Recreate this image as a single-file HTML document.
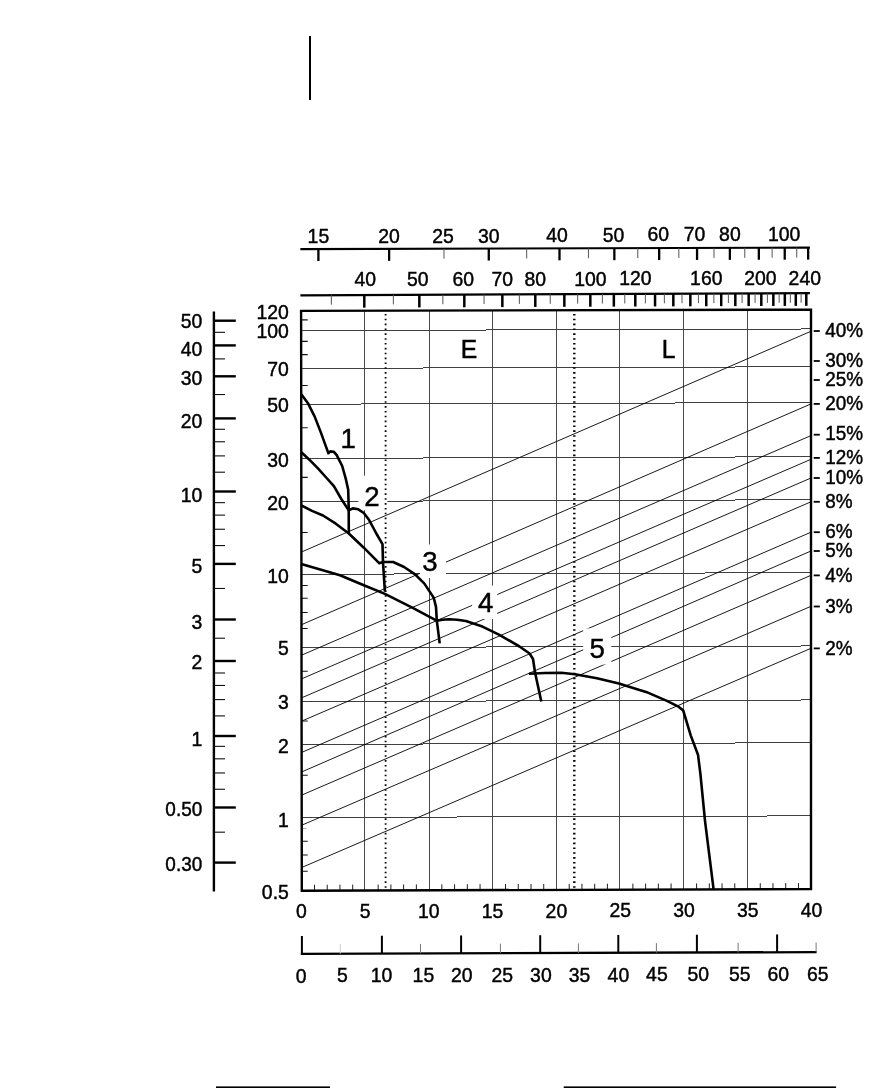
<!DOCTYPE html>
<html><head><meta charset="utf-8"><title>Chart</title>
<style>
html,body{margin:0;padding:0;background:#fff;}
body{width:874px;height:1088px;overflow:hidden;}
svg{display:block;font-family:"Liberation Sans",Arial,sans-serif;fill:#000;filter:grayscale(1);}
</style></head><body>
<svg width="874" height="1088" viewBox="0 0 874 1088">
<rect width="874" height="1088" fill="#fff"/>
<line x1="364.50" y1="310.71" x2="364.50" y2="890.58" stroke="#4a4a4a" stroke-width="1" shape-rendering="crispEdges"/>
<line x1="429.50" y1="310.52" x2="429.50" y2="890.35" stroke="#4a4a4a" stroke-width="1" shape-rendering="crispEdges"/>
<line x1="492.50" y1="310.33" x2="492.50" y2="890.13" stroke="#4a4a4a" stroke-width="1" shape-rendering="crispEdges"/>
<line x1="556.50" y1="310.13" x2="556.50" y2="889.91" stroke="#4a4a4a" stroke-width="1" shape-rendering="crispEdges"/>
<line x1="619.50" y1="309.95" x2="619.50" y2="889.69" stroke="#4a4a4a" stroke-width="1" shape-rendering="crispEdges"/>
<line x1="683.50" y1="309.75" x2="683.50" y2="889.46" stroke="#4a4a4a" stroke-width="1" shape-rendering="crispEdges"/>
<line x1="747.50" y1="309.56" x2="747.50" y2="889.24" stroke="#4a4a4a" stroke-width="1" shape-rendering="crispEdges"/>
<line x1="301.50" y1="330.60" x2="811.00" y2="328.97" stroke="#404040" stroke-width="1" shape-rendering="crispEdges"/>
<line x1="301.50" y1="368.40" x2="811.00" y2="366.77" stroke="#404040" stroke-width="1" shape-rendering="crispEdges"/>
<line x1="301.50" y1="404.20" x2="811.00" y2="402.57" stroke="#404040" stroke-width="1" shape-rendering="crispEdges"/>
<line x1="301.50" y1="458.40" x2="811.00" y2="456.77" stroke="#404040" stroke-width="1" shape-rendering="crispEdges"/>
<line x1="301.50" y1="501.40" x2="811.00" y2="499.77" stroke="#404040" stroke-width="1" shape-rendering="crispEdges"/>
<line x1="301.50" y1="574.30" x2="811.00" y2="572.67" stroke="#404040" stroke-width="1" shape-rendering="crispEdges"/>
<line x1="301.50" y1="647.60" x2="811.00" y2="645.97" stroke="#404040" stroke-width="1" shape-rendering="crispEdges"/>
<line x1="301.50" y1="701.60" x2="811.00" y2="699.97" stroke="#404040" stroke-width="1" shape-rendering="crispEdges"/>
<line x1="301.50" y1="744.40" x2="811.00" y2="742.77" stroke="#404040" stroke-width="1" shape-rendering="crispEdges"/>
<line x1="301.50" y1="817.50" x2="811.00" y2="815.87" stroke="#404040" stroke-width="1" shape-rendering="crispEdges"/>
<line x1="301.50" y1="552.00" x2="811.00" y2="331.25" stroke="#000" stroke-width="0.9" />
<line x1="301.50" y1="624.70" x2="811.00" y2="403.90" stroke="#000" stroke-width="0.9" />
<line x1="301.50" y1="655.20" x2="811.00" y2="435.60" stroke="#000" stroke-width="0.9" />
<line x1="301.50" y1="678.90" x2="811.00" y2="459.30" stroke="#000" stroke-width="0.9" />
<line x1="301.50" y1="697.90" x2="811.00" y2="478.00" stroke="#000" stroke-width="0.9" />
<line x1="301.50" y1="721.20" x2="811.00" y2="501.80" stroke="#000" stroke-width="0.9" />
<line x1="301.50" y1="752.50" x2="811.00" y2="532.20" stroke="#000" stroke-width="0.9" />
<line x1="301.50" y1="772.00" x2="811.00" y2="551.00" stroke="#000" stroke-width="0.9" />
<line x1="301.50" y1="795.20" x2="811.00" y2="575.30" stroke="#000" stroke-width="0.9" />
<line x1="301.50" y1="825.30" x2="811.00" y2="606.30" stroke="#000" stroke-width="0.9" />
<line x1="301.50" y1="867.60" x2="811.00" y2="648.30" stroke="#000" stroke-width="0.9" />
<line x1="301.50" y1="319.90" x2="307.70" y2="319.88" stroke="#111" stroke-width="1.1" />
<line x1="301.50" y1="341.40" x2="307.70" y2="341.38" stroke="#111" stroke-width="1.1" />
<line x1="301.50" y1="354.60" x2="307.70" y2="354.58" stroke="#111" stroke-width="1.1" />
<line x1="301.50" y1="385.50" x2="307.70" y2="385.48" stroke="#111" stroke-width="1.1" />
<line x1="301.50" y1="427.80" x2="307.70" y2="427.78" stroke="#111" stroke-width="1.1" />
<line x1="301.50" y1="477.40" x2="307.70" y2="477.38" stroke="#111" stroke-width="1.1" />
<line x1="301.50" y1="532.50" x2="307.70" y2="532.48" stroke="#111" stroke-width="1.1" />
<line x1="301.50" y1="585.50" x2="307.70" y2="585.48" stroke="#111" stroke-width="1.1" />
<line x1="301.50" y1="598.30" x2="307.70" y2="598.28" stroke="#111" stroke-width="1.1" />
<line x1="301.50" y1="612.50" x2="307.70" y2="612.48" stroke="#111" stroke-width="1.1" />
<line x1="301.50" y1="628.50" x2="307.70" y2="628.48" stroke="#111" stroke-width="1.1" />
<line x1="301.50" y1="671.30" x2="307.70" y2="671.28" stroke="#111" stroke-width="1.1" />
<line x1="301.50" y1="721.00" x2="307.70" y2="720.98" stroke="#111" stroke-width="1.1" />
<line x1="301.50" y1="775.30" x2="307.70" y2="775.28" stroke="#111" stroke-width="1.1" />
<line x1="301.50" y1="841.20" x2="307.70" y2="841.18" stroke="#111" stroke-width="1.1" />
<line x1="301.50" y1="855.00" x2="307.70" y2="854.98" stroke="#111" stroke-width="1.1" />
<line x1="301.50" y1="871.30" x2="307.70" y2="871.28" stroke="#111" stroke-width="1.1" />
<line x1="301.50" y1="828.50" x2="306.50" y2="828.48" stroke="#aaa" stroke-width="1" />
<line x1="314.49" y1="884.75" x2="314.49" y2="890.75" stroke="#222" stroke-width="1" />
<line x1="327.22" y1="884.71" x2="327.22" y2="890.71" stroke="#222" stroke-width="1" />
<line x1="339.96" y1="884.66" x2="339.96" y2="890.66" stroke="#222" stroke-width="1" />
<line x1="352.69" y1="884.62" x2="352.69" y2="890.62" stroke="#222" stroke-width="1" />
<line x1="378.17" y1="884.53" x2="378.17" y2="890.53" stroke="#222" stroke-width="1" />
<line x1="390.90" y1="884.49" x2="390.90" y2="890.49" stroke="#222" stroke-width="1" />
<line x1="403.64" y1="884.44" x2="403.64" y2="890.44" stroke="#222" stroke-width="1" />
<line x1="416.37" y1="884.40" x2="416.37" y2="890.40" stroke="#222" stroke-width="1" />
<line x1="441.85" y1="884.31" x2="441.85" y2="890.31" stroke="#222" stroke-width="1" />
<line x1="454.58" y1="884.26" x2="454.58" y2="890.26" stroke="#222" stroke-width="1" />
<line x1="467.32" y1="884.22" x2="467.32" y2="890.22" stroke="#222" stroke-width="1" />
<line x1="480.05" y1="884.17" x2="480.05" y2="890.17" stroke="#222" stroke-width="1" />
<line x1="505.53" y1="884.09" x2="505.53" y2="890.09" stroke="#222" stroke-width="1" />
<line x1="518.26" y1="884.04" x2="518.26" y2="890.04" stroke="#222" stroke-width="1" />
<line x1="531.00" y1="884.00" x2="531.00" y2="890.00" stroke="#222" stroke-width="1" />
<line x1="543.73" y1="883.95" x2="543.73" y2="889.95" stroke="#222" stroke-width="1" />
<line x1="569.21" y1="883.86" x2="569.21" y2="889.86" stroke="#222" stroke-width="1" />
<line x1="581.94" y1="883.82" x2="581.94" y2="889.82" stroke="#222" stroke-width="1" />
<line x1="594.68" y1="883.77" x2="594.68" y2="889.77" stroke="#222" stroke-width="1" />
<line x1="607.41" y1="883.73" x2="607.41" y2="889.73" stroke="#222" stroke-width="1" />
<line x1="632.89" y1="883.64" x2="632.89" y2="889.64" stroke="#222" stroke-width="1" />
<line x1="645.62" y1="883.59" x2="645.62" y2="889.59" stroke="#222" stroke-width="1" />
<line x1="658.36" y1="883.55" x2="658.36" y2="889.55" stroke="#222" stroke-width="1" />
<line x1="671.09" y1="883.51" x2="671.09" y2="889.51" stroke="#222" stroke-width="1" />
<line x1="696.57" y1="883.42" x2="696.57" y2="889.42" stroke="#222" stroke-width="1" />
<line x1="709.30" y1="883.37" x2="709.30" y2="889.37" stroke="#222" stroke-width="1" />
<line x1="722.04" y1="883.33" x2="722.04" y2="889.33" stroke="#222" stroke-width="1" />
<line x1="734.77" y1="883.28" x2="734.77" y2="889.28" stroke="#222" stroke-width="1" />
<line x1="760.25" y1="883.19" x2="760.25" y2="889.19" stroke="#222" stroke-width="1" />
<line x1="772.98" y1="883.15" x2="772.98" y2="889.15" stroke="#222" stroke-width="1" />
<line x1="785.72" y1="883.10" x2="785.72" y2="889.10" stroke="#222" stroke-width="1" />
<line x1="798.45" y1="883.06" x2="798.45" y2="889.06" stroke="#222" stroke-width="1" />
<rect x="335.6" y="421.6" width="26.0" height="34.0" fill="#fff"/>
<rect x="358.4" y="475.7" width="28.9" height="34.4" fill="#fff"/>
<rect x="419.9" y="544.4" width="26.1" height="33.6" fill="#fff"/>
<rect x="472.1" y="585.6" width="25.1" height="33.4" fill="#fff"/>
<rect x="583.2" y="628.4" width="28.1" height="36.1" fill="#fff"/>
<line x1="385.60" y1="313.90" x2="385.60" y2="890.80" stroke="#000" stroke-width="1.8" stroke-dasharray="1.6 3.25"/>
<line x1="574.30" y1="313.90" x2="574.30" y2="890.80" stroke="#000" stroke-width="2.4" stroke-dasharray="1.6 3.25"/>
<path d="M301.3,394.3 L308.3,403.8 L314.7,416.6 L321.1,433.1 L325.7,445.9 L328.4,453.2 L330.3,451.4 L333.9,451.8 L336.7,455.1 L342.2,466.0 L345.8,478.9 L348.2,489.8 L348.7,508.1 L348.8,533.1" fill="none" stroke="#000" stroke-width="2.6" stroke-linejoin="round"/>
<path d="M301.3,452.3 L308.3,458.7 L317.5,467.9 L326.6,478.0 L333.9,486.2 L341.3,499.0 L348.8,510.4 L352.8,508.4 L358.3,509.3 L363.8,513.0 L369.3,520.3 L376.6,534.0 L382.5,544.1 L383.0,562.4 L384.9,591.7" fill="none" stroke="#000" stroke-width="2.6" stroke-linejoin="round"/>
<path d="M301.3,505.4 L312.0,510.9 L323.0,515.5 L335.8,523.7 L348.8,533.5 L363.8,547.7 L379.4,563.3 L383.0,562.0 L393.1,562.0 L404.1,567.0 L415.1,574.3 L424.2,583.4 L431.5,594.4 L433.8,598.0 L436.0,606.9 L436.8,620.6 L439.7,643.3" fill="none" stroke="#000" stroke-width="2.6" stroke-linejoin="round"/>
<path d="M301.3,564.0 L340.0,575.2 L363.8,585.3 L384.9,593.9 L413.2,608.1 L436.6,620.7 L442.5,619.8 L449.0,619.2 L457.2,619.8 L465.9,621.0 L482.4,626.6 L498.9,634.6 L519.5,646.5 L529.6,653.5 L533.0,659.0 L535.1,672.8 L541.3,701.6" fill="none" stroke="#000" stroke-width="2.6" stroke-linejoin="round"/>
<path d="M528.9,673.7 L545.0,673.0 L561.2,672.7 L574.9,674.3 L596.9,678.2 L618.9,683.6 L639.5,689.9 L647.8,692.6 L666.9,700.9 L678.9,706.9 L683.2,710.5 L690.8,735.6 L698.0,754.7 L700.4,773.8 L705.1,821.6 L709.9,859.8 L713.6,889.3" fill="none" stroke="#000" stroke-width="2.6" stroke-linejoin="round"/>
<text transform="translate(348.30 448.20) scale(0.97 1)" font-size="28.5" text-anchor="middle" stroke="#000" stroke-width="0.45">1</text>
<text transform="translate(372.00 506.40) scale(0.97 1)" font-size="28.5" text-anchor="middle" stroke="#000" stroke-width="0.45">2</text>
<text transform="translate(430.00 571.20) scale(0.97 1)" font-size="28.5" text-anchor="middle" stroke="#000" stroke-width="0.45">3</text>
<text transform="translate(485.80 612.00) scale(0.97 1)" font-size="28.5" text-anchor="middle" stroke="#000" stroke-width="0.45">4</text>
<text transform="translate(597.20 658.30) scale(0.97 1)" font-size="28.5" text-anchor="middle" stroke="#000" stroke-width="0.45">5</text>
<text transform="translate(468.90 358.00) scale(0.97 1)" font-size="25.5" text-anchor="middle" stroke="#000" stroke-width="0.45">E</text>
<text transform="translate(668.60 357.60) scale(0.97 1)" font-size="25.5" text-anchor="middle" stroke="#000" stroke-width="0.45">L</text>
<polygon points="301.10,310.90 811.00,309.58 811.00,889.02 301.80,890.80" fill="none" stroke="#000" stroke-width="2.4"/>
<line x1="300.40" y1="249.10" x2="809.90" y2="247.63" stroke="#000" stroke-width="2.2" />
<line x1="318.40" y1="249.05" x2="318.40" y2="261.05" stroke="#000" stroke-width="2.3" />
<line x1="389.12" y1="248.85" x2="389.12" y2="260.85" stroke="#000" stroke-width="2.3" />
<line x1="488.78" y1="248.56" x2="488.78" y2="260.56" stroke="#000" stroke-width="2.3" />
<line x1="559.50" y1="248.35" x2="559.50" y2="260.35" stroke="#000" stroke-width="2.3" />
<line x1="614.35" y1="248.19" x2="614.35" y2="260.19" stroke="#000" stroke-width="2.3" />
<line x1="659.17" y1="248.06" x2="659.17" y2="260.06" stroke="#000" stroke-width="2.3" />
<line x1="697.06" y1="247.95" x2="697.06" y2="259.95" stroke="#000" stroke-width="2.3" />
<line x1="729.88" y1="247.86" x2="729.88" y2="259.86" stroke="#000" stroke-width="2.3" />
<line x1="758.83" y1="247.77" x2="758.83" y2="259.77" stroke="#000" stroke-width="2.3" />
<line x1="784.73" y1="247.70" x2="784.73" y2="259.70" stroke="#000" stroke-width="2.3" />
<line x1="808.16" y1="247.63" x2="808.16" y2="259.63" stroke="#000" stroke-width="2.3" />
<line x1="443.97" y1="248.69" x2="443.97" y2="258.69" stroke="#555" stroke-width="1" />
<line x1="526.67" y1="248.45" x2="526.67" y2="258.45" stroke="#555" stroke-width="1" />
<line x1="588.45" y1="248.27" x2="588.45" y2="258.27" stroke="#555" stroke-width="1" />
<line x1="637.78" y1="248.12" x2="637.78" y2="258.12" stroke="#555" stroke-width="1" />
<line x1="678.84" y1="248.01" x2="678.84" y2="258.01" stroke="#555" stroke-width="1" />
<line x1="714.02" y1="247.90" x2="714.02" y2="257.90" stroke="#555" stroke-width="1" />
<line x1="744.78" y1="247.81" x2="744.78" y2="257.81" stroke="#555" stroke-width="1" />
<line x1="772.12" y1="247.73" x2="772.12" y2="257.73" stroke="#555" stroke-width="1" />
<line x1="796.73" y1="247.66" x2="796.73" y2="257.66" stroke="#555" stroke-width="1" />
<text transform="translate(318.40 243.00) scale(0.97 1)" font-size="20" text-anchor="middle" stroke="#000" stroke-width="0.45">15</text>
<text transform="translate(389.12 243.00) scale(0.97 1)" font-size="20" text-anchor="middle" stroke="#000" stroke-width="0.45">20</text>
<text transform="translate(442.97 243.00) scale(0.97 1)" font-size="20" text-anchor="middle" stroke="#000" stroke-width="0.45">25</text>
<text transform="translate(488.78 243.00) scale(0.97 1)" font-size="20" text-anchor="middle" stroke="#000" stroke-width="0.45">30</text>
<text transform="translate(557.00 242.00) scale(0.97 1)" font-size="20" text-anchor="middle" stroke="#000" stroke-width="0.45">40</text>
<text transform="translate(613.60 242.00) scale(0.97 1)" font-size="20" text-anchor="middle" stroke="#000" stroke-width="0.45">50</text>
<text transform="translate(658.17 241.00) scale(0.97 1)" font-size="20" text-anchor="middle" stroke="#000" stroke-width="0.45">60</text>
<text transform="translate(694.56 241.00) scale(0.97 1)" font-size="20" text-anchor="middle" stroke="#000" stroke-width="0.45">70</text>
<text transform="translate(729.88 241.00) scale(0.97 1)" font-size="20" text-anchor="middle" stroke="#000" stroke-width="0.45">80</text>
<text transform="translate(784.23 241.00) scale(0.97 1)" font-size="20" text-anchor="middle" stroke="#000" stroke-width="0.45">100</text>
<line x1="300.40" y1="295.30" x2="809.90" y2="293.21" stroke="#000" stroke-width="2.3" />
<line x1="364.30" y1="295.04" x2="364.30" y2="307.64" stroke="#000" stroke-width="2.5" />
<line x1="419.34" y1="294.82" x2="419.34" y2="307.42" stroke="#000" stroke-width="2.5" />
<line x1="464.32" y1="294.63" x2="464.32" y2="307.23" stroke="#000" stroke-width="2.5" />
<line x1="502.35" y1="294.48" x2="502.35" y2="307.08" stroke="#000" stroke-width="2.5" />
<line x1="535.29" y1="294.34" x2="535.29" y2="306.94" stroke="#000" stroke-width="2.5" />
<line x1="564.34" y1="294.22" x2="564.34" y2="306.82" stroke="#000" stroke-width="2.5" />
<line x1="590.33" y1="294.11" x2="590.33" y2="306.71" stroke="#000" stroke-width="2.5" />
<line x1="613.84" y1="294.02" x2="613.84" y2="306.62" stroke="#000" stroke-width="2.5" />
<line x1="635.30" y1="293.93" x2="635.30" y2="306.53" stroke="#000" stroke-width="2.5" />
<line x1="655.05" y1="293.85" x2="655.05" y2="306.45" stroke="#000" stroke-width="2.5" />
<line x1="673.33" y1="293.77" x2="673.33" y2="306.37" stroke="#000" stroke-width="2.5" />
<line x1="690.35" y1="293.70" x2="690.35" y2="306.30" stroke="#000" stroke-width="2.5" />
<line x1="706.27" y1="293.64" x2="706.27" y2="306.24" stroke="#000" stroke-width="2.5" />
<line x1="721.22" y1="293.58" x2="721.22" y2="306.18" stroke="#000" stroke-width="2.5" />
<line x1="735.32" y1="293.52" x2="735.32" y2="306.12" stroke="#000" stroke-width="2.5" />
<line x1="748.66" y1="293.47" x2="748.66" y2="306.07" stroke="#000" stroke-width="2.5" />
<line x1="761.31" y1="293.41" x2="761.31" y2="306.01" stroke="#000" stroke-width="2.5" />
<line x1="773.35" y1="293.36" x2="773.35" y2="305.96" stroke="#000" stroke-width="2.5" />
<line x1="784.83" y1="293.32" x2="784.83" y2="305.92" stroke="#000" stroke-width="2.5" />
<line x1="795.79" y1="293.27" x2="795.79" y2="305.87" stroke="#000" stroke-width="2.5" />
<line x1="806.29" y1="293.23" x2="806.29" y2="305.83" stroke="#000" stroke-width="2.5" />
<line x1="331.36" y1="295.18" x2="331.36" y2="304.68" stroke="#555" stroke-width="1" />
<line x1="393.35" y1="294.92" x2="393.35" y2="304.42" stroke="#555" stroke-width="1" />
<line x1="442.86" y1="294.72" x2="442.86" y2="304.22" stroke="#555" stroke-width="1" />
<line x1="484.06" y1="294.55" x2="484.06" y2="304.05" stroke="#555" stroke-width="1" />
<line x1="519.36" y1="294.41" x2="519.36" y2="303.91" stroke="#555" stroke-width="1" />
<line x1="550.24" y1="294.28" x2="550.24" y2="303.78" stroke="#555" stroke-width="1" />
<line x1="577.68" y1="294.17" x2="577.68" y2="303.67" stroke="#555" stroke-width="1" />
<line x1="602.37" y1="294.07" x2="602.37" y2="303.57" stroke="#555" stroke-width="1" />
<line x1="624.81" y1="293.97" x2="624.81" y2="303.47" stroke="#555" stroke-width="1" />
<line x1="645.37" y1="293.89" x2="645.37" y2="303.39" stroke="#555" stroke-width="1" />
<line x1="664.36" y1="293.81" x2="664.36" y2="303.31" stroke="#555" stroke-width="1" />
<line x1="681.99" y1="293.74" x2="681.99" y2="303.24" stroke="#555" stroke-width="1" />
<line x1="698.44" y1="293.67" x2="698.44" y2="303.17" stroke="#555" stroke-width="1" />
<line x1="713.86" y1="293.61" x2="713.86" y2="303.11" stroke="#555" stroke-width="1" />
<line x1="728.38" y1="293.55" x2="728.38" y2="303.05" stroke="#555" stroke-width="1" />
<line x1="742.08" y1="293.49" x2="742.08" y2="302.99" stroke="#555" stroke-width="1" />
<line x1="755.07" y1="293.44" x2="755.07" y2="302.94" stroke="#555" stroke-width="1" />
<line x1="767.41" y1="293.39" x2="767.41" y2="302.89" stroke="#555" stroke-width="1" />
<line x1="779.15" y1="293.34" x2="779.15" y2="302.84" stroke="#555" stroke-width="1" />
<line x1="790.37" y1="293.29" x2="790.37" y2="302.79" stroke="#555" stroke-width="1" />
<line x1="801.10" y1="293.25" x2="801.10" y2="302.75" stroke="#555" stroke-width="1" />
<text transform="translate(365.30 286.00) scale(0.97 1)" font-size="20" text-anchor="middle" stroke="#000" stroke-width="0.45">40</text>
<text transform="translate(417.84 286.00) scale(0.97 1)" font-size="20" text-anchor="middle" stroke="#000" stroke-width="0.45">50</text>
<text transform="translate(463.32 286.00) scale(0.97 1)" font-size="20" text-anchor="middle" stroke="#000" stroke-width="0.45">60</text>
<text transform="translate(502.35 286.00) scale(0.97 1)" font-size="20" text-anchor="middle" stroke="#000" stroke-width="0.45">70</text>
<text transform="translate(535.29 286.00) scale(0.97 1)" font-size="20" text-anchor="middle" stroke="#000" stroke-width="0.45">80</text>
<text transform="translate(590.33 286.00) scale(0.97 1)" font-size="20" text-anchor="middle" stroke="#000" stroke-width="0.45">100</text>
<text transform="translate(635.30 285.00) scale(0.97 1)" font-size="20" text-anchor="middle" stroke="#000" stroke-width="0.45">120</text>
<text transform="translate(706.27 285.00) scale(0.97 1)" font-size="20" text-anchor="middle" stroke="#000" stroke-width="0.45">160</text>
<text transform="translate(760.31 285.00) scale(0.97 1)" font-size="20" text-anchor="middle" stroke="#000" stroke-width="0.45">200</text>
<text transform="translate(804.79 285.00) scale(0.97 1)" font-size="20" text-anchor="middle" stroke="#000" stroke-width="0.45">240</text>
<line x1="213.90" y1="311.50" x2="213.90" y2="891.50" stroke="#000" stroke-width="2.4" />
<line x1="213.90" y1="320.70" x2="235.80" y2="320.70" stroke="#000" stroke-width="2.4" />
<line x1="213.90" y1="345.40" x2="235.80" y2="345.40" stroke="#000" stroke-width="2.4" />
<line x1="213.90" y1="376.30" x2="235.80" y2="376.30" stroke="#000" stroke-width="2.4" />
<line x1="213.90" y1="418.40" x2="235.80" y2="418.40" stroke="#000" stroke-width="2.4" />
<line x1="213.90" y1="491.50" x2="235.80" y2="491.50" stroke="#000" stroke-width="2.4" />
<line x1="213.90" y1="563.90" x2="235.80" y2="563.90" stroke="#000" stroke-width="2.4" />
<line x1="213.90" y1="619.50" x2="235.80" y2="619.50" stroke="#000" stroke-width="2.4" />
<line x1="213.90" y1="661.00" x2="235.80" y2="661.00" stroke="#000" stroke-width="2.4" />
<line x1="213.90" y1="736.00" x2="235.80" y2="736.00" stroke="#000" stroke-width="2.4" />
<line x1="213.90" y1="807.50" x2="235.80" y2="807.50" stroke="#000" stroke-width="2.4" />
<line x1="213.90" y1="862.60" x2="235.80" y2="862.60" stroke="#000" stroke-width="2.4" />
<line x1="213.90" y1="332.31" x2="225.00" y2="332.31" stroke="#111" stroke-width="1.1" />
<line x1="213.90" y1="358.91" x2="225.00" y2="358.91" stroke="#111" stroke-width="1.1" />
<line x1="213.90" y1="394.52" x2="225.00" y2="394.52" stroke="#111" stroke-width="1.1" />
<line x1="213.90" y1="429.29" x2="225.00" y2="429.29" stroke="#111" stroke-width="1.1" />
<line x1="213.90" y1="441.76" x2="225.00" y2="441.76" stroke="#111" stroke-width="1.1" />
<line x1="213.90" y1="455.89" x2="225.00" y2="455.89" stroke="#111" stroke-width="1.1" />
<line x1="213.90" y1="472.20" x2="225.00" y2="472.20" stroke="#111" stroke-width="1.1" />
<line x1="213.90" y1="502.65" x2="225.00" y2="502.65" stroke="#111" stroke-width="1.1" />
<line x1="213.90" y1="515.12" x2="225.00" y2="515.12" stroke="#111" stroke-width="1.1" />
<line x1="213.90" y1="529.25" x2="225.00" y2="529.25" stroke="#111" stroke-width="1.1" />
<line x1="213.90" y1="545.56" x2="225.00" y2="545.56" stroke="#111" stroke-width="1.1" />
<line x1="213.90" y1="588.48" x2="225.00" y2="588.48" stroke="#111" stroke-width="1.1" />
<line x1="213.90" y1="638.22" x2="225.00" y2="638.22" stroke="#111" stroke-width="1.1" />
<line x1="213.90" y1="672.99" x2="225.00" y2="672.99" stroke="#111" stroke-width="1.1" />
<line x1="213.90" y1="685.46" x2="225.00" y2="685.46" stroke="#111" stroke-width="1.1" />
<line x1="213.90" y1="699.59" x2="225.00" y2="699.59" stroke="#111" stroke-width="1.1" />
<line x1="213.90" y1="715.90" x2="225.00" y2="715.90" stroke="#111" stroke-width="1.1" />
<line x1="213.90" y1="746.35" x2="225.00" y2="746.35" stroke="#111" stroke-width="1.1" />
<line x1="213.90" y1="758.82" x2="225.00" y2="758.82" stroke="#111" stroke-width="1.1" />
<line x1="213.90" y1="772.95" x2="225.00" y2="772.95" stroke="#111" stroke-width="1.1" />
<line x1="213.90" y1="789.26" x2="225.00" y2="789.26" stroke="#111" stroke-width="1.1" />
<line x1="213.90" y1="832.18" x2="225.00" y2="832.18" stroke="#111" stroke-width="1.1" />
<text transform="translate(202.30 327.60) scale(0.97 1)" font-size="20" text-anchor="end" stroke="#000" stroke-width="0.45">50</text>
<text transform="translate(202.30 355.70) scale(0.97 1)" font-size="20" text-anchor="end" stroke="#000" stroke-width="0.45">40</text>
<text transform="translate(202.30 385.20) scale(0.97 1)" font-size="20" text-anchor="end" stroke="#000" stroke-width="0.45">30</text>
<text transform="translate(202.30 427.50) scale(0.97 1)" font-size="20" text-anchor="end" stroke="#000" stroke-width="0.45">20</text>
<text transform="translate(202.30 501.80) scale(0.97 1)" font-size="20" text-anchor="end" stroke="#000" stroke-width="0.45">10</text>
<text transform="translate(202.30 573.40) scale(0.97 1)" font-size="20" text-anchor="end" stroke="#000" stroke-width="0.45">5</text>
<text transform="translate(202.30 628.80) scale(0.97 1)" font-size="20" text-anchor="end" stroke="#000" stroke-width="0.45">3</text>
<text transform="translate(202.30 669.00) scale(0.97 1)" font-size="20" text-anchor="end" stroke="#000" stroke-width="0.45">2</text>
<text transform="translate(202.30 745.70) scale(0.97 1)" font-size="20" text-anchor="end" stroke="#000" stroke-width="0.45">1</text>
<text transform="translate(202.30 815.90) scale(0.95 1)" font-size="20" text-anchor="end" stroke="#000" stroke-width="0.45">0.50</text>
<text transform="translate(202.30 871.10) scale(0.95 1)" font-size="20" text-anchor="end" stroke="#000" stroke-width="0.45">0.30</text>
<text transform="translate(288.80 319.30) scale(0.97 1)" font-size="20" text-anchor="end" stroke="#000" stroke-width="0.45">120</text>
<text transform="translate(288.80 337.60) scale(0.97 1)" font-size="20" text-anchor="end" stroke="#000" stroke-width="0.45">100</text>
<text transform="translate(288.80 376.10) scale(0.97 1)" font-size="20" text-anchor="end" stroke="#000" stroke-width="0.45">70</text>
<text transform="translate(288.80 412.40) scale(0.97 1)" font-size="20" text-anchor="end" stroke="#000" stroke-width="0.45">50</text>
<text transform="translate(288.80 466.60) scale(0.97 1)" font-size="20" text-anchor="end" stroke="#000" stroke-width="0.45">30</text>
<text transform="translate(288.80 510.00) scale(0.97 1)" font-size="20" text-anchor="end" stroke="#000" stroke-width="0.45">20</text>
<text transform="translate(288.80 582.60) scale(0.97 1)" font-size="20" text-anchor="end" stroke="#000" stroke-width="0.45">10</text>
<text transform="translate(288.80 655.40) scale(0.97 1)" font-size="20" text-anchor="end" stroke="#000" stroke-width="0.45">5</text>
<text transform="translate(288.80 709.30) scale(0.97 1)" font-size="20" text-anchor="end" stroke="#000" stroke-width="0.45">3</text>
<text transform="translate(288.80 753.40) scale(0.97 1)" font-size="20" text-anchor="end" stroke="#000" stroke-width="0.45">2</text>
<text transform="translate(288.80 826.60) scale(0.97 1)" font-size="20" text-anchor="end" stroke="#000" stroke-width="0.45">1</text>
<text transform="translate(288.80 898.70) scale(0.97 1)" font-size="20" text-anchor="end" stroke="#000" stroke-width="0.45">0.5</text>
<line x1="813.70" y1="331.00" x2="819.80" y2="331.00" stroke="#000" stroke-width="1.8" />
<line x1="813.70" y1="361.00" x2="819.80" y2="361.00" stroke="#000" stroke-width="1.8" />
<line x1="813.70" y1="380.00" x2="819.80" y2="380.00" stroke="#000" stroke-width="1.8" />
<line x1="813.70" y1="403.90" x2="819.80" y2="403.90" stroke="#000" stroke-width="1.8" />
<line x1="813.70" y1="434.70" x2="819.80" y2="434.70" stroke="#000" stroke-width="1.8" />
<line x1="813.70" y1="457.90" x2="819.80" y2="457.90" stroke="#000" stroke-width="1.8" />
<line x1="813.70" y1="478.00" x2="819.80" y2="478.00" stroke="#000" stroke-width="1.8" />
<line x1="813.70" y1="501.80" x2="819.80" y2="501.80" stroke="#000" stroke-width="1.8" />
<line x1="813.70" y1="532.20" x2="819.80" y2="532.20" stroke="#000" stroke-width="1.8" />
<line x1="813.70" y1="551.00" x2="819.80" y2="551.00" stroke="#000" stroke-width="1.8" />
<line x1="813.70" y1="575.40" x2="819.80" y2="575.40" stroke="#000" stroke-width="1.8" />
<line x1="813.70" y1="606.50" x2="819.80" y2="606.50" stroke="#000" stroke-width="1.8" />
<line x1="813.70" y1="648.40" x2="819.80" y2="648.40" stroke="#000" stroke-width="1.8" />
<text transform="translate(825.20 337.45) scale(0.945 1)" font-size="20" text-anchor="start" stroke="#000" stroke-width="0.45">40%</text>
<text transform="translate(825.20 367.20) scale(0.945 1)" font-size="20" text-anchor="start" stroke="#000" stroke-width="0.45">30%</text>
<text transform="translate(825.20 386.20) scale(0.945 1)" font-size="20" text-anchor="start" stroke="#000" stroke-width="0.45">25%</text>
<text transform="translate(825.20 410.10) scale(0.945 1)" font-size="20" text-anchor="start" stroke="#000" stroke-width="0.45">20%</text>
<text transform="translate(825.20 440.40) scale(0.945 1)" font-size="20" text-anchor="start" stroke="#000" stroke-width="0.45">15%</text>
<text transform="translate(825.20 463.90) scale(0.945 1)" font-size="20" text-anchor="start" stroke="#000" stroke-width="0.45">12%</text>
<text transform="translate(825.20 484.40) scale(0.945 1)" font-size="20" text-anchor="start" stroke="#000" stroke-width="0.45">10%</text>
<text transform="translate(825.20 507.60) scale(0.945 1)" font-size="20" text-anchor="start" stroke="#000" stroke-width="0.45">8%</text>
<text transform="translate(825.20 538.20) scale(0.945 1)" font-size="20" text-anchor="start" stroke="#000" stroke-width="0.45">6%</text>
<text transform="translate(825.20 557.20) scale(0.945 1)" font-size="20" text-anchor="start" stroke="#000" stroke-width="0.45">5%</text>
<text transform="translate(825.20 581.60) scale(0.945 1)" font-size="20" text-anchor="start" stroke="#000" stroke-width="0.45">4%</text>
<text transform="translate(825.20 612.70) scale(0.945 1)" font-size="20" text-anchor="start" stroke="#000" stroke-width="0.45">3%</text>
<text transform="translate(825.20 654.60) scale(0.945 1)" font-size="20" text-anchor="start" stroke="#000" stroke-width="0.45">2%</text>
<text transform="translate(301.30 918.40) scale(0.97 1)" font-size="20" text-anchor="middle" stroke="#000" stroke-width="0.45">0</text>
<text transform="translate(365.08 918.21) scale(0.97 1)" font-size="20" text-anchor="middle" stroke="#000" stroke-width="0.45">5</text>
<text transform="translate(428.85 918.02) scale(0.97 1)" font-size="20" text-anchor="middle" stroke="#000" stroke-width="0.45">10</text>
<text transform="translate(492.62 917.83) scale(0.97 1)" font-size="20" text-anchor="middle" stroke="#000" stroke-width="0.45">15</text>
<text transform="translate(556.40 917.63) scale(0.97 1)" font-size="20" text-anchor="middle" stroke="#000" stroke-width="0.45">20</text>
<text transform="translate(620.17 917.44) scale(0.97 1)" font-size="20" text-anchor="middle" stroke="#000" stroke-width="0.45">25</text>
<text transform="translate(683.95 917.25) scale(0.97 1)" font-size="20" text-anchor="middle" stroke="#000" stroke-width="0.45">30</text>
<text transform="translate(747.73 917.06) scale(0.97 1)" font-size="20" text-anchor="middle" stroke="#000" stroke-width="0.45">35</text>
<text transform="translate(811.50 916.87) scale(0.97 1)" font-size="20" text-anchor="middle" stroke="#000" stroke-width="0.45">40</text>
<line x1="300.80" y1="953.80" x2="816.60" y2="952.10" stroke="#000" stroke-width="2.3" />
<line x1="301.90" y1="936.00" x2="301.90" y2="953.80" stroke="#000" stroke-width="2" />
<line x1="381.90" y1="935.73" x2="381.90" y2="953.53" stroke="#000" stroke-width="2" />
<line x1="461.10" y1="935.47" x2="461.10" y2="953.27" stroke="#000" stroke-width="2" />
<line x1="540.20" y1="935.21" x2="540.20" y2="953.01" stroke="#000" stroke-width="2" />
<line x1="618.30" y1="934.95" x2="618.30" y2="952.75" stroke="#000" stroke-width="2" />
<line x1="696.90" y1="934.69" x2="696.90" y2="952.49" stroke="#000" stroke-width="2" />
<line x1="777.10" y1="934.43" x2="777.10" y2="952.23" stroke="#000" stroke-width="2" />
<line x1="420.50" y1="943.91" x2="420.50" y2="953.41" stroke="#777" stroke-width="1" />
<line x1="500.40" y1="943.64" x2="500.40" y2="953.14" stroke="#777" stroke-width="1" />
<line x1="578.40" y1="943.39" x2="578.40" y2="952.89" stroke="#777" stroke-width="1" />
<line x1="656.40" y1="943.13" x2="656.40" y2="952.63" stroke="#777" stroke-width="1" />
<line x1="738.10" y1="942.86" x2="738.10" y2="952.36" stroke="#777" stroke-width="1" />
<line x1="816.10" y1="942.60" x2="816.10" y2="952.10" stroke="#777" stroke-width="1" />
<line x1="340.30" y1="944.17" x2="340.30" y2="953.67" stroke="#ccc" stroke-width="1" />
<text transform="translate(301.10 982.50) scale(0.97 1)" font-size="20" text-anchor="middle" stroke="#000" stroke-width="0.45">0</text>
<text transform="translate(342.50 982.38) scale(0.97 1)" font-size="20" text-anchor="middle" stroke="#000" stroke-width="0.45">5</text>
<text transform="translate(381.60 982.26) scale(0.97 1)" font-size="20" text-anchor="middle" stroke="#000" stroke-width="0.45">10</text>
<text transform="translate(423.40 982.13) scale(0.97 1)" font-size="20" text-anchor="middle" stroke="#000" stroke-width="0.45">15</text>
<text transform="translate(461.80 982.02) scale(0.97 1)" font-size="20" text-anchor="middle" stroke="#000" stroke-width="0.45">20</text>
<text transform="translate(502.20 981.90) scale(0.97 1)" font-size="20" text-anchor="middle" stroke="#000" stroke-width="0.45">25</text>
<text transform="translate(540.90 981.78) scale(0.97 1)" font-size="20" text-anchor="middle" stroke="#000" stroke-width="0.45">30</text>
<text transform="translate(579.60 981.67) scale(0.97 1)" font-size="20" text-anchor="middle" stroke="#000" stroke-width="0.45">35</text>
<text transform="translate(618.40 981.55) scale(0.97 1)" font-size="20" text-anchor="middle" stroke="#000" stroke-width="0.45">40</text>
<text transform="translate(656.90 981.43) scale(0.97 1)" font-size="20" text-anchor="middle" stroke="#000" stroke-width="0.45">45</text>
<text transform="translate(698.20 981.31) scale(0.97 1)" font-size="20" text-anchor="middle" stroke="#000" stroke-width="0.45">50</text>
<text transform="translate(739.80 981.18) scale(0.97 1)" font-size="20" text-anchor="middle" stroke="#000" stroke-width="0.45">55</text>
<text transform="translate(778.30 981.07) scale(0.97 1)" font-size="20" text-anchor="middle" stroke="#000" stroke-width="0.45">60</text>
<text transform="translate(817.70 980.95) scale(0.97 1)" font-size="20" text-anchor="middle" stroke="#000" stroke-width="0.45">65</text>
<rect x="309" y="36" width="2" height="64" fill="#000"/>
<rect x="216" y="1086.4" width="114" height="1.6" fill="#000"/>
<rect x="563.7" y="1086.4" width="272.4" height="1.6" fill="#000"/>
</svg>
</body></html>
